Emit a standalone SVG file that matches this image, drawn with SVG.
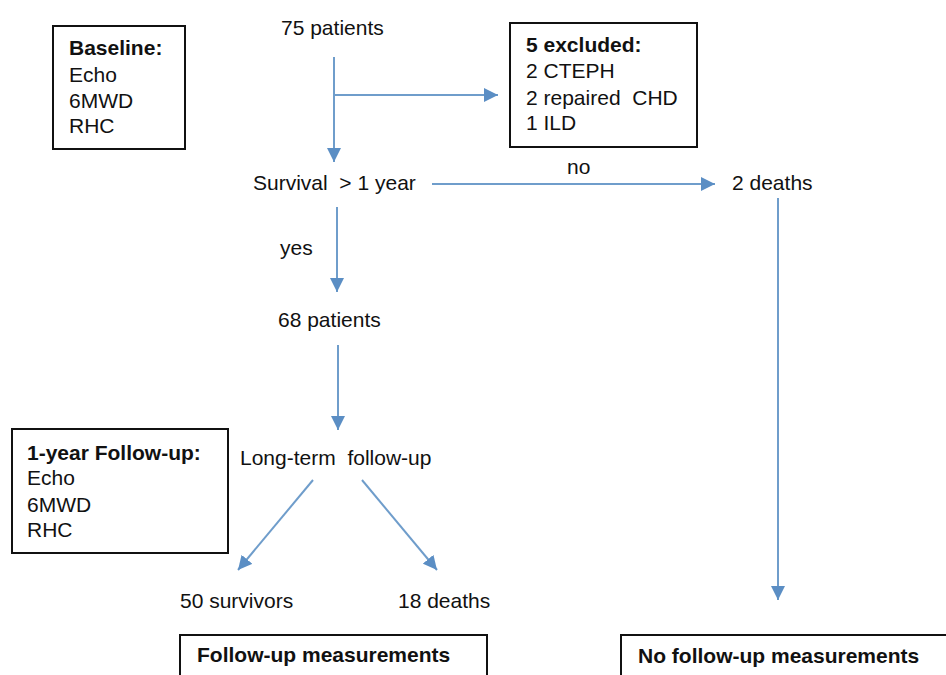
<svg xmlns="http://www.w3.org/2000/svg" width="946" height="675" viewBox="0 0 946 675">
<style>
text{font-family:"Liberation Sans",Arial,sans-serif;font-size:21px;fill:#111}
.b{font-weight:bold}
.box{fill:#fff;stroke:#111;stroke-width:2}
.c{stroke:#6f9dcb;stroke-width:2;fill:none;marker-end:url(#ah)}
</style>
<defs>
<marker id="ah" viewBox="0 0 10 10" refX="10" refY="5" markerWidth="7" markerHeight="7" markerUnits="strokeWidth" orient="auto">
<path d="M0,0 L10,5 L0,10 z" fill="#5b8ec4"/>
</marker>
</defs>
<rect width="946" height="675" fill="#fff"/>
<g id="connectors">
<path class="c" d="M334,57 V162"/>
<path class="c" d="M334,95 H498"/>
<path class="c" d="M432,184 H715"/>
<path class="c" d="M337,207 V292"/>
<path class="c" d="M338,345 V430"/>
<path class="c" d="M778,198 V600"/>
<path class="c" d="M313,480 L238,570"/>
<path class="c" d="M362,480 L437,570"/>
</g>
<g id="baseline">
<rect class="box" x="53" y="26" width="132" height="123"/>
<text x="69" y="55" class="b">Baseline:</text>
<text x="69" y="82">Echo</text>
<text x="69" y="108">6MWD</text>
<text x="69" y="133">RHC</text>
</g>
<g id="n75"><text x="281" y="35">75 patients</text></g>
<g id="excluded">
<rect class="box" x="510" y="23" width="187" height="124"/>
<text x="526" y="52" class="b">5 excluded:</text>
<text x="526" y="78">2 CTEPH</text>
<text x="526" y="105" xml:space="preserve">2 repaired  CHD</text>
<text x="526" y="130">1 ILD</text>
</g>
<g id="survival"><text x="253" y="190" xml:space="preserve">Survival  &gt; 1 year</text></g>
<g id="no"><text x="567" y="174">no</text></g>
<g id="deaths2"><text x="732" y="190">2 deaths</text></g>
<g id="yes"><text x="280" y="255">yes</text></g>
<g id="n68"><text x="278" y="327">68 patients</text></g>
<g id="followup1">
<rect class="box" x="12" y="429" width="216" height="124"/>
<text x="27" y="460" class="b">1-year Follow-up:</text>
<text x="27" y="485">Echo</text>
<text x="27" y="512">6MWD</text>
<text x="27" y="537">RHC</text>
</g>
<g id="longterm"><text x="240" y="465" xml:space="preserve">Long-term  follow-up</text></g>
<g id="survivors"><text x="180" y="608">50 survivors</text></g>
<g id="deaths18"><text x="398" y="608">18 deaths</text></g>
<g id="fum">
<rect class="box" x="180" y="635" width="307" height="50"/>
<text x="197" y="662" class="b">Follow-up measurements</text>
</g>
<g id="nofum">
<rect class="box" x="621" y="635" width="340" height="50"/>
<text x="638" y="663" class="b">No follow-up measurements</text>
</g>
</svg>
